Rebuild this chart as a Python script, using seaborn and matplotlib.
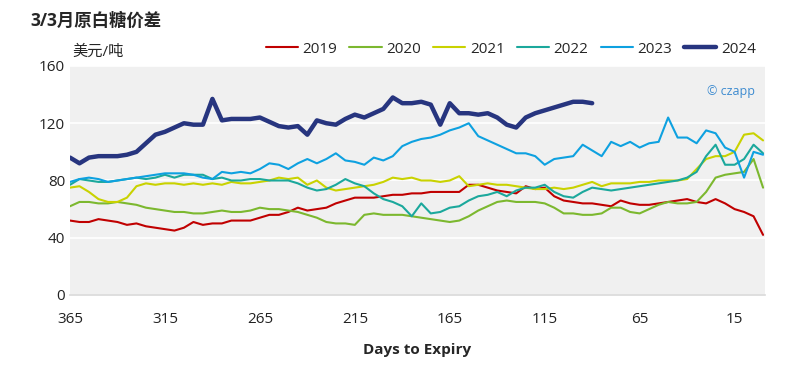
import numpy as np
import pandas as pd
import seaborn as sns
from matplotlib import pyplot as plt

# days to expiry, 5-day steps
days = np.arange(365, -1, -5)

y2019 = [52, 51, 51, 53, 52, 51, 49, 50, 48, 47, 46, 45, 47, 51, 49, 50, 50, 52, 52,
         52, 54, 56, 56, 58, 61, 59, 60, 61, 64, 66, 68, 68, 68, 69, 70, 70, 71, 71,
         72, 72, 72, 72, 77, 77, 75, 73, 72, 71, 76, 74, 75, 69, 66, 65, 64, 64, 63,
         62, 66, 64, 63, 63, 64, 65, 66, 67, 65, 64, 67, 64, 60, 58, 55, 42]
y2020 = [62, 65, 65, 64, 64, 65, 64, 63, 61, 60, 59, 58, 58, 57, 57, 58, 59, 58, 58,
         59, 61, 60, 60, 59, 58, 56, 54, 51, 50, 50, 49, 56, 57, 56, 56, 56, 55, 54,
         53, 52, 51, 52, 55, 59, 62, 65, 66, 65, 65, 65, 64, 61, 57, 57, 56, 56, 57,
         61, 61, 58, 57, 60, 63, 65, 64, 64, 65, 72, 82, 84, 85, 86, 95, 75]
y2021 = [75, 76, 72, 67, 65, 65, 68, 76, 78, 77, 78, 78, 77, 78, 77, 78, 77, 79, 78,
         78, 79, 80, 82, 81, 82, 77, 80, 75, 73, 74, 75, 76, 77, 79, 82, 81, 82, 80,
         80, 79, 80, 83, 76, 77, 78, 77, 77, 76, 75, 74, 74, 75, 74, 75, 77, 79, 76,
         78, 78, 78, 79, 79, 80, 80, 80, 81, 88, 95, 97, 97, 100, 112, 113, 108]
y2022 = [77, 81, 80, 79, 79, 80, 81, 82, 81, 82, 84, 82, 84, 84, 84, 81, 82, 80, 80,
         81, 81, 80, 80, 80, 78, 75, 73, 74, 77, 81, 78, 76, 71, 67, 65, 62, 55, 64,
         57, 58, 61, 62, 66, 69, 70, 72, 69, 73, 75, 75, 77, 72, 69, 68, 72, 75, 74,
         73, 74, 75, 76, 77, 78, 79, 80, 82, 86, 97, 105, 91, 91, 95, 105, 99]
y2023 = [79, 81, 82, 81, 79, 80, 81, 82, 83, 84, 85, 85, 85, 84, 82, 81, 86, 85, 86,
         85, 88, 92, 91, 88, 92, 95, 92, 95, 99, 94, 93, 91, 96, 94, 97, 104, 107, 109,
         110, 112, 115, 117, 120, 111, 108, 105, 102, 99, 99, 97, 91, 95, 96, 97, 105,
         101, 97, 107, 104, 107, 103, 106, 107, 124, 110, 110, 106, 115, 113, 103, 100,
         82, 100, 98]
y2024 = [96, 92, 96, 97, 97, 97, 98, 100, 106, 112, 114, 117, 120, 119, 119, 137, 122,
         123, 123, 123, 124, 121, 118, 117, 118, 112, 122, 120, 119, 123, 126, 124, 127,
         130, 138, 134, 134, 135, 133, 119, 134, 127, 127, 126, 127, 124, 119, 117, 124,
         127, 129, 131, 133, 135, 135, 134] + [np.nan] * 18

years = ['2019', '2020', '2021', '2022', '2023', '2024']
colors = ['#C00000', '#7CB82F', '#C9D200', '#1BA89C', '#0EA1E0', '#27357F']
series = [y2019, y2020, y2021, y2022, y2023, y2024]

sns.set_style('white')
plt.rcParams['font.family'] = ['Open Sans', 'Noto Sans CJK SC', 'DejaVu Sans']

fig = plt.figure(figsize=(7.99, 3.83), dpi=100)
ax = fig.add_axes([0.0876, 0.2298, 0.8698, 0.5979])
ax.set_facecolor('#F0F0F0')

for yr, c, vals in zip(years, colors, series):
    lw = 3.2 if yr == '2024' else 1.5
    sns.lineplot(x=days, y=vals, ax=ax, color=c, lw=lw, label=yr)

ax.set_xlim(365, -1)
ax.set_ylim(0, 160)
ax.set_xticks([365, 315, 265, 215, 165, 115, 65, 15])
ax.set_yticks([0, 40, 80, 120, 160])
ax.tick_params(axis='both', length=0, labelsize=11, colors='#222222')
ax.tick_params(axis='x', pad=12)
ax.grid(axis='y', color='white', lw=1.2)
ax.set_axisbelow(True)
for s in ['top', 'right', 'left']:
    ax.spines[s].set_visible(False)
ax.spines['bottom'].set_color('#D9D9D9')
ax.spines['bottom'].set_linewidth(1.2)

ax.set_xlabel('Days to Expiry', fontsize=11, fontweight='bold', labelpad=12)
ax.set_ylabel('')

fig.text(0.038, 0.945, '3/3月原白糖价差', fontsize=12.5, fontweight='bold',
         ha='left', va='center')
fig.text(0.09, 0.863, '美元/吨', fontsize=11, ha='left', va='center')
ax.text(0.985, 0.89, '© czapp', transform=ax.transAxes, fontsize=9,
        color='#3D8BD0', ha='right', va='center')

ax.legend(loc='lower right', bbox_to_anchor=(1.0, 1.0), ncol=6, frameon=False,
          fontsize=11, handlelength=2.1, handletextpad=0.3, columnspacing=0.8,
          borderaxespad=0.2)

fig.savefig('out.png', dpi=100)
